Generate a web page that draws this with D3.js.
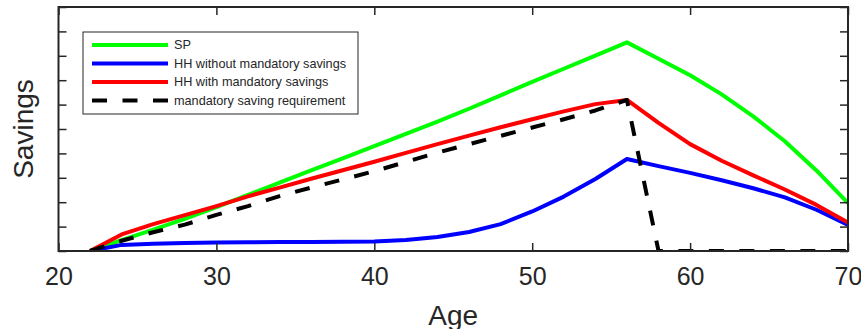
<!DOCTYPE html>
<html>
<head>
<meta charset="utf-8">
<script src="https://cdn.jsdelivr.net/npm/d3@7"></script>
<style>
  body { margin: 0; background: #fff; }
  svg { display: block; font-family: Arial, 'Liberation Sans', Helvetica, sans-serif; }
</style>
</head>
<body>
<div id="chart"></div>
<script>
// ages, every 2 years
const ages = [22, 24, 26, 28, 30, 32, 34, 36, 38, 40, 42, 44, 46, 48, 50, 52, 54, 56, 58, 60, 62, 64, 66, 68, 70]

const sp = [0, 0.45, 0.88, 1.32, 1.8, 2.3, 2.8, 3.3, 3.8, 4.3, 4.8, 5.3, 5.83, 6.38, 6.93, 7.47, 8.01, 8.55,
  7.88, 7.2, 6.42, 5.52, 4.5, 3.3, 1.96]
const hhWithout = [0, 0.25, 0.3, 0.33, 0.35, 0.36, 0.37, 0.37, 0.38, 0.39, 0.45, 0.57, 0.78, 1.1, 1.62, 2.23, 2.95, 3.77,
  3.48, 3.2, 2.9, 2.57, 2.2, 1.69, 1.07]
const hhWith = [0, 0.68, 1.1, 1.47, 1.84, 2.24, 2.6, 2.96, 3.31, 3.66, 4.02, 4.38, 4.73, 5.07, 5.4, 5.72, 6.02, 6.19,
  5.25, 4.38, 3.7, 3.1, 2.52, 1.89, 1.17]
const mandatory = [0, 0.42, 0.77, 1.08, 1.48, 1.84, 2.25, 2.6, 2.93, 3.27, 3.65, 4.03, 4.38, 4.72, 5.06, 5.4, 5.76, 6.19,
  0, 0, 0, 0, 0, 0, 0]

const xTicks = [20, 30, 40, 50, 60, 70]
const yTicks = [0, 1, 2, 3, 4, 5, 6, 7, 8, 9, 10]

const seriesNames = ['SP', 'HH without mandatory savings', 'HH with mandatory savings', 'mandatory saving requirement']

const width = 861,
  height = 329
const margin = {top: 7, right: 13, bottom: 78, left: 58.5}
const plotW = width - margin.left - margin.right,
  plotH = height - margin.top - margin.bottom
const axisColor = '#262626'

const series = [
  {name: seriesNames[0], values: sp, color: '#00ff00', dash: null},
  {name: seriesNames[1], values: hhWithout, color: '#0000ff', dash: null},
  {name: seriesNames[2], values: hhWith, color: '#ff0000', dash: null},
  {name: seriesNames[3], values: mandatory, color: '#000000', dash: '15,15.5'}
]

const svg = d3.select('#chart')
  .append('svg')
  .attr('width', width)
  .attr('height', height)

const g = svg.append('g')
  .attr('transform', `translate(${margin.left}, ${margin.top})`)

const x = d3.scaleLinear().domain([20, 70]).range([0, plotW])
const y = d3.scaleLinear().domain([0, 10]).range([plotH, 0])

svg.append('defs').append('clipPath')
  .attr('id', 'plotclip')
  .append('rect')
  .attr('width', plotW)
  .attr('height', plotH)

const line = d3.line()
  .x(d => x(d[0]))
  .y(d => y(d[1]))

g.append('g')
  .attr('clip-path', 'url(#plotclip)')
  .selectAll('path')
  .data(series)
  .enter().append('path')
  .attr('d', s => line(ages.map((a, i) => [a, s.values[i]])))
  .attr('fill', 'none')
  .attr('stroke', s => s.color)
  .attr('stroke-width', 4)
  .attr('stroke-dasharray', s => s.dash)
  .attr('stroke-linejoin', 'round')

// axes: ticks inward on all four sides
const tickLen = 8
const bottomAxis = d3.axisBottom(x).tickValues(xTicks).tickSize(-tickLen).tickPadding(tickLen + 8)
const topAxis = d3.axisTop(x).tickValues(xTicks).tickSize(-tickLen).tickFormat('')
const leftAxis = d3.axisLeft(y).tickValues(yTicks).tickSize(-tickLen).tickFormat('')
const rightAxis = d3.axisRight(y).tickValues(yTicks).tickSize(-tickLen).tickFormat('')

const gb = g.append('g').attr('transform', `translate(0, ${plotH})`).call(bottomAxis)
g.append('g').call(topAxis)
g.append('g').call(leftAxis)
g.append('g').attr('transform', `translate(${plotW}, 0)`).call(rightAxis)

g.selectAll('.domain').remove()
g.selectAll('.tick line')
  .attr('stroke', axisColor)
  .attr('stroke-width', 1.5)
gb.selectAll('.tick text')
  .attr('fill', axisColor)
  .attr('font-size', 25)

g.append('rect')
  .attr('width', plotW)
  .attr('height', plotH)
  .attr('fill', 'none')
  .attr('stroke', axisColor)
  .attr('stroke-width', 2)

// axis labels
svg.append('text')
  .attr('transform', `translate(33, ${margin.top + plotH / 2}) rotate(-90)`)
  .attr('text-anchor', 'middle')
  .attr('font-size', 28)
  .attr('fill', axisColor)
  .text('Savings')

// the reference crops this label at the bottom edge
svg.append('text')
  .attr('x', margin.left + plotW / 2)
  .attr('y', 325)
  .attr('text-anchor', 'middle')
  .attr('font-size', 28)
  .attr('fill', axisColor)
  .text('Age')

// legend
const legend = svg.append('g')
  .attr('transform', 'translate(83, 32)')

legend.append('rect')
  .attr('width', 275)
  .attr('height', 82)
  .attr('fill', '#fff')
  .attr('stroke', axisColor)
  .attr('stroke-width', 1)

const item = legend.selectAll('.item')
  .data(series)
  .enter().append('g')
  .attr('class', 'item')
  .attr('transform', (d, i) => `translate(0, ${13 + i * 18.5})`)

item.append('line')
  .attr('x1', 9)
  .attr('x2', 85)
  .attr('stroke', d => d.color)
  .attr('stroke-width', 4)
  .attr('stroke-dasharray', d => d.dash)

item.append('text')
  .attr('x', 91)
  .attr('dy', '0.35em')
  .attr('font-size', 12.7)
  .attr('fill', axisColor)
  .text(d => d.name)
</script>
</body>
</html>
